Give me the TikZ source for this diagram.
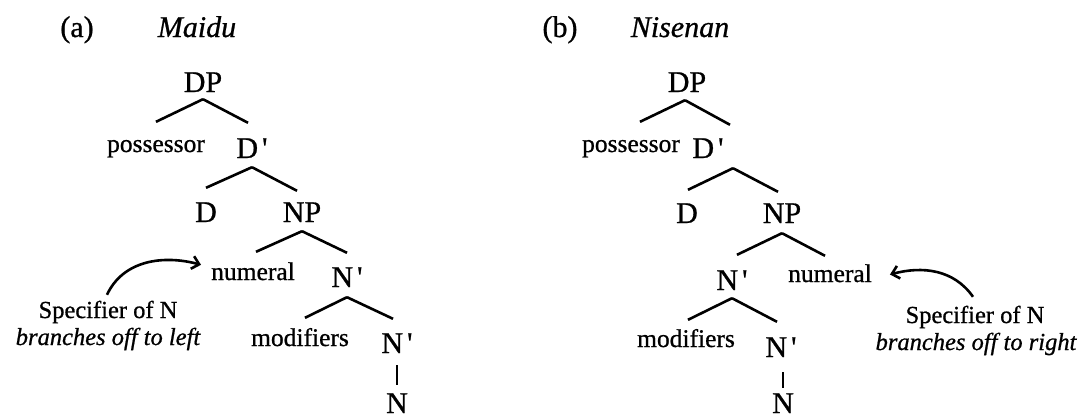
\documentclass[tikz,border=0pt]{standalone}
\usepackage{fontspec}
\setmainfont{Liberation Serif}[FakeBold=0.8]
\usetikzlibrary{arrows.meta}
\newcommand\prm{\kern4pt\textquotesingle}
\begin{document}
\begin{tikzpicture}[x=1pt,y=-1pt,
  big/.style={anchor=base,inner sep=0pt,text height=20pt,text depth=0pt,font=\fontsize{30}{36}\selectfont},
  small/.style={anchor=base,inner sep=0pt,text height=17pt,text depth=0pt,font=\fontsize{25.5}{30}\selectfont},
  note/.style={anchor=base,inner sep=0pt,text height=17pt,text depth=0pt,font=\fontsize{24.5}{29}\selectfont},
  title/.style={anchor=base,inner sep=0pt,font=\fontsize{30}{36}\selectfont},
  br/.style={line width=2.6pt},
  arr/.style={line width=2.6pt,-{Straight Barb[length=7pt,width=13pt,line width=2.6pt]}}
]
\useasboundingbox (0,0) rectangle (1081,418);

% ---------- (a) Maidu ----------
\node[title] (lblA) at (77,37) {(a)};
\node[title] (langA) at (197,37) {\itshape Maidu};
\node[big] (DPa) at (203,92) {DP};
\node[small] (possa) at (156,152) {possessor};
\node[big] (Dba) at (252,158) {D\prm};
\node[big] (Da) at (206,222) {D};
\node[big] (NPa) at (302,222) {NP};
\node[small] (numa) at (253,280) {numeral};
\node[big] (Nba) at (347,287) {N\prm};
\node[small] (moda) at (300,346) {modifiers};
\node[big] (Nbba) at (397,353) {N\prm};
\node[big] (Na) at (397,413) {N};
\node[note] (speca) at (108,318) {Specifier of N};
\node[note] (bra) at (108,345) {\itshape branches off to left};

\draw[br] ([yshift=-7pt]DPa.south) -- ([yshift=13pt]possa.north);
\draw[br] ([yshift=-7pt]DPa.south) -- ([xshift=-4pt,yshift=15pt]Dba.north);
\draw[br] ([yshift=-9pt]Dba.south) -- ([yshift=14pt]Da.north);
\draw[br] ([yshift=-9pt]Dba.south) -- ([xshift=-5pt,yshift=11pt]NPa.north);
\draw[br] ([yshift=-9pt]NPa.south) -- ([xshift=3pt,yshift=11pt]numa.north);
\draw[br] ([yshift=-9pt]NPa.south) -- ([yshift=14pt]Nba.north);
\draw[br] ([yshift=-10pt]Nba.south) -- ([xshift=5pt,yshift=11pt]moda.north);
\draw[br] ([yshift=-10pt]Nba.south) -- ([xshift=-4pt,yshift=14pt]Nbba.north);
\draw[br] ([yshift=-12pt]Nbba.south) -- ([yshift=8pt]Na.north);
\draw[arr] ([xshift=-1pt,yshift=6pt]speca.north) to[out=65,in=165] ([xshift=-10pt,yshift=-2pt]numa.north west);

% ---------- (b) Nisenan ----------
\node[title] (lblB) at (560,37) {(b)};
\node[title] (langB) at (680,37) {\itshape Nisenan};
\node[big] (DPb) at (687,92) {DP};
\node[small] (possb) at (631,152) {possessor};
\node[big] (Dbb) at (708,158) {D\prm};
\node[big] (Db) at (687,223) {D};
\node[big] (NPb) at (782,223) {NP};
\node[big] (Nbb) at (732,290) {N\prm};
\node[small] (numb) at (830,282) {numeral};
\node[small] (modb) at (686,347) {modifiers};
\node[big] (Nbbb) at (781,357) {N\prm};
\node[big] (Nb) at (783,413) {N};
\node[note] (specb) at (975,323) {Specifier of N};
\node[note] (brb) at (976,350) {\itshape branches off to right};

\draw[br] ([xshift=-2pt,yshift=-8pt]DPb.south) -- ([xshift=9pt,yshift=13pt]possb.north);
\draw[br] ([xshift=-2pt,yshift=-8pt]DPb.south) -- ([xshift=22pt,yshift=13pt]Dbb.north);
\draw[br] ([xshift=25pt,yshift=-10pt]Dbb.south) -- ([xshift=1pt,yshift=13pt]Db.north);
\draw[br] ([xshift=25pt,yshift=-10pt]Dbb.south) -- ([xshift=-4pt,yshift=11pt]NPb.north);
\draw[br] ([yshift=-10pt]NPb.south) -- ([xshift=5pt,yshift=15pt]Nbb.north);
\draw[br] ([yshift=-10pt]NPb.south) -- ([xshift=-5pt,yshift=9pt]numb.north);
\draw[br] ([yshift=-8pt]Nbb.south) -- ([xshift=2pt,yshift=10pt]modb.north);
\draw[br] ([yshift=-8pt]Nbb.south) -- ([xshift=-4pt,yshift=15pt]Nbbb.north);
\draw[br] ([xshift=2pt,yshift=-15pt]Nbbb.south) -- ([yshift=5pt]Nb.north);
\draw[arr] ([xshift=-2pt,yshift=9pt]specb.north) to[out=125,in=15] ([xshift=18pt,yshift=-1pt]numb.east);
\end{tikzpicture}
\end{document}
